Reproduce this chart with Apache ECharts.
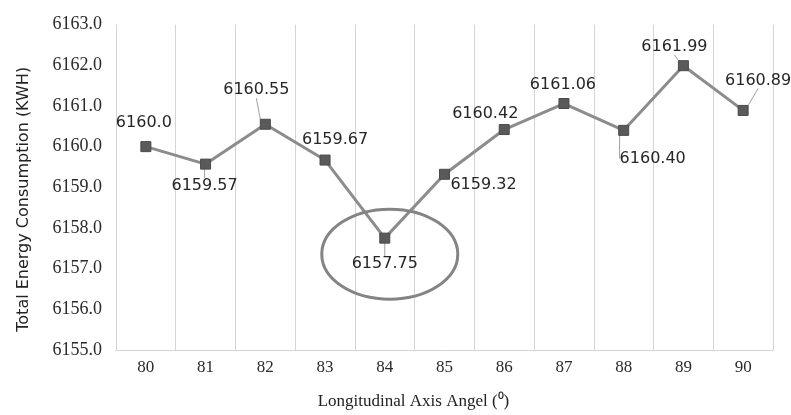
<!DOCTYPE html>
<html>
<head>
<meta charset="utf-8">
<script src="https://cdn.jsdelivr.net/npm/echarts@6/dist/echarts.min.js"></script>
<style>
  html, body { margin: 0; padding: 0; background: #ffffff; }
  #chart { width: 791px; height: 415px; }
</style>
</head>
<body>
<div id="chart"></div>
<script>
// Longitudinal axis angle (degrees)
const angles = ['80', '81', '82', '83', '84', '85', '86', '87', '88', '89', '90'];
// Total energy consumption (kWh) per angle
const energy = [6160.0, 6159.57, 6160.55, 6159.67, 6157.75, 6159.32, 6160.42, 6161.06, 6160.40, 6161.99, 6160.89];
// Label text shown for each point
const labelText = ['6160.0', '6159.57', '6160.55', '6159.67', '6157.75', '6159.32', '6160.42', '6161.06', '6160.40', '6161.99', '6160.89'];
// Y axis range
const yMin = 6155, yMax = 6163, yStep = 1;
// Index of the highlighted minimum
const minIndex = 4;

// Label shift from each marker centre (px)
const labelShift = [
  [-2, -24], [-1, 22], [-9, -34], [10, -20], [0, 26], [39, 11],
  [-19, -16], [-1, -19], [29, 28], [-9, -19], [15, -30]
];
const showLeader = [false, true, true, false, true, false, false, false, true, true, true];

const chart = echarts.init(document.getElementById('chart'), null, { renderer: 'canvas' });

const option = {
  backgroundColor: '#ffffff',
  animation: false,
  grid: { left: 116, right: 18, top: 24.6, bottom: 64 },
  xAxis: {
    type: 'category',
    data: angles,
    boundaryGap: true,
    name: 'Longitudinal Axis Angel (\u2070)',
    nameLocation: 'middle',
    nameGap: 43,
    nameTextStyle: {
      fontFamily: 'Liberation Serif', fontSize: 17, color: '#222',
      padding: [0, 62, 0, 0]
    },
    axisLine: { show: true, lineStyle: { color: '#d4d4d4', width: 1 } },
    axisTick: { show: false },
    axisLabel: { fontFamily: 'Liberation Serif', fontSize: 17, color: '#2a2a2a', margin: 9 },
    splitLine: { show: true, lineStyle: { color: '#d4d4d4', width: 1 } }
  },
  yAxis: {
    type: 'value',
    min: yMin,
    max: yMax,
    interval: yStep,
    name: 'Total Energy Consumption (KWH)',
    nameLocation: 'middle',
    nameRotate: 90,
    nameGap: 84,
    nameTextStyle: {
      fontFamily: 'DejaVu Sans', fontSize: 16, color: '#222',
      padding: [0, 24, 0, 0]
    },
    axisLine: { show: false },
    axisTick: { show: false },
    axisLabel: {
      fontFamily: 'Liberation Serif', fontSize: 18, color: '#2a2a2a', margin: 14,
      formatter: v => v.toFixed(1)
    },
    splitLine: { show: false }
  },
  series: [{
    type: 'line',
    data: energy.map((v, i) => ({
      value: v,
      labelLine: { show: showLeader[i] }
    })),
    symbol: 'rect',
    symbolSize: 10,
    itemStyle: { color: '#5a5a5a', borderColor: '#4a4a4a', borderWidth: 1 },
    lineStyle: { color: '#8c8c8c', width: 3 },
    label: {
      show: true,
      position: 'inside',
      fontFamily: 'DejaVu Sans',
      fontSize: 16,
      color: '#262626',
      formatter: p => labelText[p.dataIndex]
    },
    labelLine: {
      show: true,
      length2: 0,
      lineStyle: { color: '#a0a0a0', width: 1 }
    },
    labelLayout: p => ({
      dx: labelShift[p.dataIndex][0],
      dy: labelShift[p.dataIndex][1],
      hideOverlap: false
    })
  }]
};

chart.setOption(option);

// Ellipse drawn around the minimum point, placed through the chart's own scales
function drawHighlight() {
  const c = chart.convertToPixel({ gridIndex: 0 }, [angles[minIndex], energy[minIndex]]);
  chart.setOption({
    graphic: [{
      type: 'ellipse',
      shape: { cx: c[0] + 5, cy: c[1] + 16, rx: 68, ry: 45 },
      style: { fill: 'none', stroke: '#848484', lineWidth: 3 },
      z: 10
    }]
  });
}
drawHighlight();
</script>
</body>
</html>
